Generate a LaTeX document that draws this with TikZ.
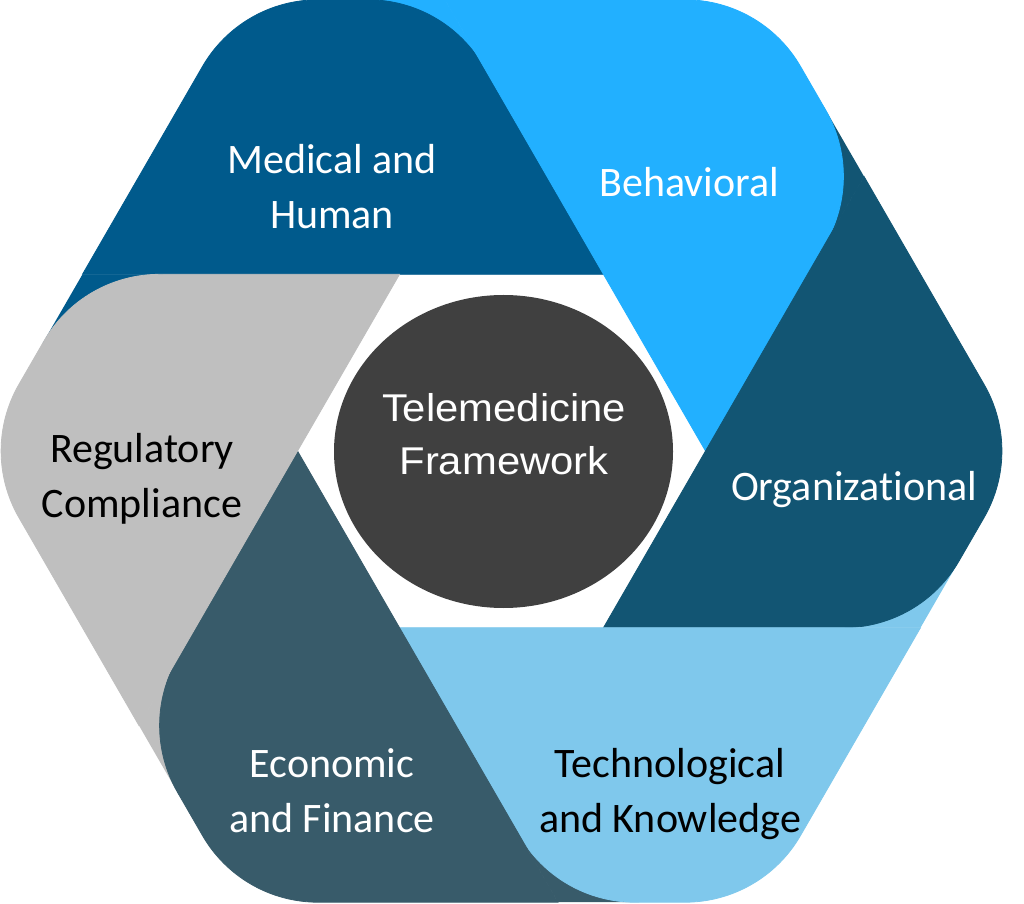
\documentclass[tikz,border=0pt]{standalone}
\usepackage{fontspec}
\usetikzlibrary{calc,shapes.geometric}
\newfontfamily\labelfont[Ligatures=NoCommon]{Carlito}
\newfontfamily\centerfont[FakeStretch=1.08]{Liberation Sans}
\definecolor{cMed}{HTML}{005A8C}
\definecolor{cBeh}{HTML}{22B0FF}
\definecolor{cOrg}{HTML}{125573}
\definecolor{cTec}{HTML}{7FC8EC}
\definecolor{cEco}{HTML}{385B6A}
\definecolor{cReg}{HTML}{BFBFBF}
\definecolor{cHub}{HTML}{404040}
\newcommand\tR{77pt}
\newcommand\tC{29.3pt}
\newcommand\drawblade[2]{%
  \filldraw[fill=#2, draw=#2, line width=0.8pt] (V#1) -- (Q#1)
    -- ($(O#1)!\tR!(Q#1)$) .. controls ($(O#1)!\tC!(Q#1)$) and ($(O#1)!\tC!(P#1)$) .. ($(O#1)!\tR!(P#1)$)
    -- ($(P#1)!\tR!(O#1)$) .. controls ($(P#1)!\tC!(O#1)$) and ($(P#1)!\tC!(V#1)$) .. ($(P#1)!\tR!(V#1)$)
    -- cycle;}
\newcommand\drawbladegap[2]{%
  \fill[#2] (P#1) -- ($(P#1)!81pt!(O#1)$) -- ($(P#1)!81pt!(V#1)$) -- cycle;}
\begin{document}
\begin{tikzpicture}[x=1pt,y=1pt,
  lbl/.style={font=\labelfont\fontsize{42}{55}\selectfont, align=center, inner sep=0pt, anchor=base},
  hubtxt/.style={font=\centerfont\fontsize{38.7}{52.6}\selectfont, align=center, inner sep=0pt, anchor=base, text=white}]
\fill[white] (0,0) rectangle (1024,903);
\useasboundingbox (0,0) rectangle (1024,903);
\foreach \k in {1,...,6}{
  \begin{scope}[shift={(501.5,452)}, rotate={-60*(\k-1)}]
    \coordinate (V\k) at (60:204);
    \coordinate (Q\k) at (-419,176.67);
    \coordinate (O\k) at (120:521);
    \coordinate (P\k) at (-56.5,451.2);
  \end{scope}
}
% fillers behind the rounded corners
\drawbladegap{1}{cBeh}
\drawbladegap{2}{cOrg}
\drawbladegap{3}{cTec}
\drawbladegap{4}{cEco}
\drawbladegap{5}{cReg}
\drawbladegap{6}{cMed}
% blades
\drawblade{1}{cMed}
\drawblade{2}{cBeh}
\drawblade{3}{cOrg}
\drawblade{4}{cTec}
\drawblade{5}{cEco}
\drawblade{6}{cReg}
% hub
\node[ellipse, fill=cHub, minimum width=339pt, minimum height=313pt, inner sep=0pt] (hub) at (503.5,451.5) {};
\node[hubtxt] (hubtext) at (504,428.7) {Telemedicine\\Framework};
% labels (base = baseline of the last line)
\node[lbl, text=white] (tMed) at (332,674) {Medical and\\Human};
\node[lbl, text=white] (tBeh) at (689,706) {Behavioral};
\node[lbl, text=white] (tOrg) at (854,403) {Organizational};
\node[lbl, text=black] (tReg) at (142,386) {Regulatory\\Compliance};
\node[lbl, text=white] (tEco) at (332,71) {Economic\\and Finance};
\node[lbl, text=black] (tTec) at (670,71) {Technological\\and Knowledge};
\end{tikzpicture}
\end{document}
